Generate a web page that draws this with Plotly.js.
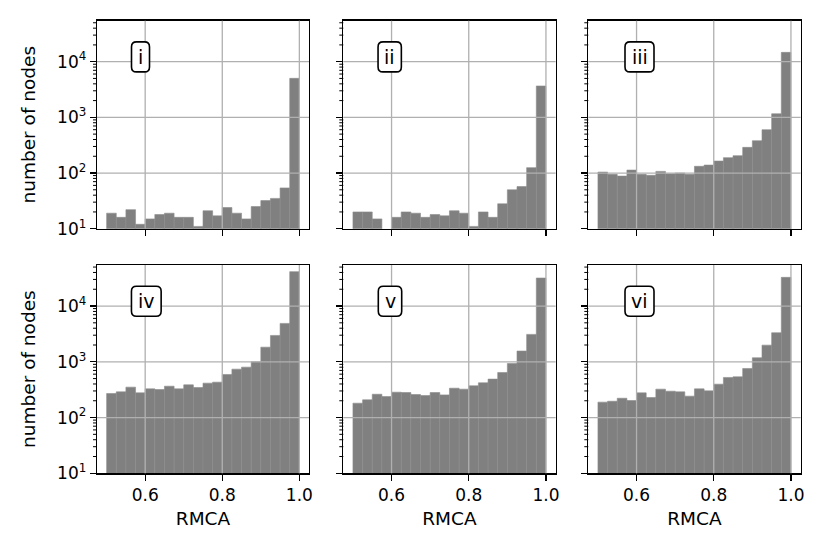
<!DOCTYPE html>
<html><head><meta charset="utf-8">
<script src="https://cdn.plot.ly/plotly-3.0.1.min.js"></script>
<style>html,body{margin:0;padding:0;background:#fff}#chart{width:830px;height:554px}</style>
</head><body><div id="chart"></div>
<script>
// Histogram bin centres (RMCA, bin width 0.025)
const binCenters = [0.5125,0.5375,0.5625,0.5875,0.6125,0.6375,0.6625,0.6875,0.7125,0.7375,
                    0.7625,0.7875,0.8125,0.8375,0.8625,0.8875,0.9125,0.9375,0.9625,0.9875];
const binWidth = 0.025;

// Counts per bin (number of nodes)
const countsI   = [19,16,22,12,15,18,19,16,16,11,21,17,24,19,15,25,32,35,54,5020];
const countsII  = [20,20,15,0,16,20,19,16,18,17,21,19,11,20,16,28,50,57,125,3660];
const countsIII = [104,95,88,113,95,91,107,97,100,95,132,139,164,189,205,289,381,600,1160,14700];
const countsIV  = [270,289,351,277,327,318,365,327,386,346,414,431,592,738,802,1000,1830,2970,4880,41400];
const countsV   = [181,208,262,238,285,281,259,248,281,255,336,323,371,420,489,643,933,1560,3100,31800];
const countsVI  = [189,196,222,202,277,229,323,297,289,242,327,301,397,524,538,759,1180,1990,3320,32700];

const panelLabels = ['i','ii','iii','iv','v','vi'];
const panelCounts = [countsI,countsII,countsIII,countsIV,countsV,countsVI];

const xTickVals = [0.6, 0.8, 1.0];
const xTickText = ['0.6','0.8','1.0'];
const yTickVals = [10, 100, 1000, 10000];
const yTickText = ['10<sup>1</sup>','10<sup>2</sup>','10<sup>3</sup>','10<sup>4</sup>'];

// ---------- layout ----------
const W = 830, H = 554;
const FONT = 'DejaVu Sans, sans-serif';
const colPx = [[97, 309], [343.3, 555.6], [588.3, 800.6]];
const rowPx = [[20.7, 228.7], [265, 473.3]];
const xRange = [0.475, 1.025];
const yLogRange = [1, 4.736];

// minor log ticks (2..9 x each decade) inside the visible range
const minorVals = [];
for (let d = 1; d <= 4; d++) for (let m = 2; m <= 9; m++) {
  const v = m * Math.pow(10, d);
  if (Math.log10(v) < yLogRange[1]) minorVals.push(v);
}

const data = [];
const layout = {
  width: W, height: H,
  margin: {l: 0, r: 0, t: 0, b: 0},
  paper_bgcolor: '#fff', plot_bgcolor: '#fff',
  showlegend: false,
  font: {family: FONT, size: 17, color: '#000'},
  shapes: [], annotations: [],
  bargap: 0
};

// annotation boxes: [centre offset from axis left (px), box width (px)]
const boxSpec = [[43.5, 18], [46.4, 23.3], [51.2, 29], [49.3, 29.7], [46.7, 23.4], [51.2, 29]];

for (let k = 0; k < 6; k++) {
  const r = Math.floor(k / 3), c = k % 3;
  const sfx = k === 0 ? '' : String(k + 1);
  const xa = 'x' + sfx, ya = 'y' + sfx;
  const pw = colPx[c][1] - colPx[c][0];
  data.push({
    type: 'bar', x: binCenters, y: panelCounts[k], width: binWidth,
    xaxis: xa, yaxis: ya,
    marker: {color: '#808080', line: {width: 0.6, color: '#8c8c8c'}},
    hoverinfo: 'x+y'
  });
  const xd = [colPx[c][0] / W, colPx[c][1] / W];
  const yd = [1 - rowPx[r][1] / H, 1 - rowPx[r][0] / H];
  const xax = {
    domain: xd, range: xRange, anchor: ya,
    showgrid: false, zeroline: false,
    showline: true, mirror: true, linecolor: '#000', linewidth: 1.3,
    ticks: 'outside', ticklen: 6, tickwidth: 1.3, tickcolor: '#000',
    tickmode: 'array', tickvals: xTickVals, ticktext: xTickText,
    showticklabels: r === 1,
    tickfont: {family: FONT, size: 17, color: '#000'}
  };
  if (r === 1) xax.title = {text: 'RMCA', font: {family: FONT, size: 18.5, color: '#000'}, standoff: 8};
  layout['xaxis' + sfx] = xax;
  const yax = {
    domain: yd, type: 'log', range: yLogRange, anchor: xa,
    showgrid: false, zeroline: false,
    showline: true, mirror: true, linecolor: '#000', linewidth: 1.3,
    ticks: 'outside', ticklen: 6, tickwidth: 1.3, tickcolor: '#000',
    tickmode: 'array', tickvals: yTickVals, ticktext: yTickText,
    showticklabels: c === 0,
    tickfont: {family: FONT, size: 17, color: '#000'}
  };
  if (c === 0) yax.title = {text: 'number of nodes', font: {family: FONT, size: 18.5, color: '#000'}, standoff: 16};
  layout['yaxis' + sfx] = yax;

  const toFrac = v => (Math.log10(v) - yLogRange[0]) / (yLogRange[1] - yLogRange[0]);
  // minor ticks on the left spine
  minorVals.forEach(v => {
    const f = toFrac(v);
    layout.shapes.push({
      type: 'line', layer: 'above', xref: xa + ' domain', yref: ya + ' domain',
      x0: -4 / pw, x1: 0, y0: f, y1: f, line: {color: '#000', width: 1}
    });
  });
  // grid lines above bars (matplotlib style)
  xTickVals.forEach(v => layout.shapes.push({
    type: 'line', layer: 'above', xref: xa, yref: ya + ' domain', x0: v, x1: v, y0: 0, y1: 1,
    line: {color: '#b0b0b0', width: 1.3}
  }));
  yTickVals.forEach(v => {
    const f = toFrac(v);
    if (f <= 0.001) return;
    layout.shapes.push({
      type: 'line', layer: 'above', xref: xa + ' domain', yref: ya + ' domain', x0: 0, x1: 1, y0: f, y1: f,
      line: {color: '#b0b0b0', width: 1.3}
    });
  });
  // rounded label box
  const cx = colPx[c][0] + boxSpec[k][0];
  const bw = boxSpec[k][1], bh = 30;
  const cy = rowPx[r][0] + 36.2;
  const x0 = (cx - bw / 2) / W, x1 = (cx + bw / 2) / W;
  const y0 = 1 - (cy + bh / 2) / H, y1 = 1 - (cy - bh / 2) / H;
  const rx = 5 / W, ry = 5 / H;
  const path = `M ${x0 + rx} ${y1} L ${x1 - rx} ${y1} Q ${x1} ${y1} ${x1} ${y1 - ry} L ${x1} ${y0 + ry} Q ${x1} ${y0} ${x1 - rx} ${y0} L ${x0 + rx} ${y0} Q ${x0} ${y0} ${x0} ${y0 + ry} L ${x0} ${y1 - ry} Q ${x0} ${y1} ${x0 + rx} ${y1} Z`;
  layout.shapes.push({
    type: 'path', layer: 'above', xref: 'paper', yref: 'paper', path: path,
    fillcolor: '#fff', line: {color: '#000', width: 1.6}
  });
  layout.annotations.push({
    xref: 'paper', yref: 'paper', x: cx / W, y: 1 - cy / H,
    xanchor: 'center', yanchor: 'middle', showarrow: false,
    text: panelLabels[k], font: {family: FONT, size: 19, color: '#000'}
  });
}

Plotly.newPlot('chart', data, layout, {displayModeBar: false, staticPlot: true});
</script>
</body></html>
